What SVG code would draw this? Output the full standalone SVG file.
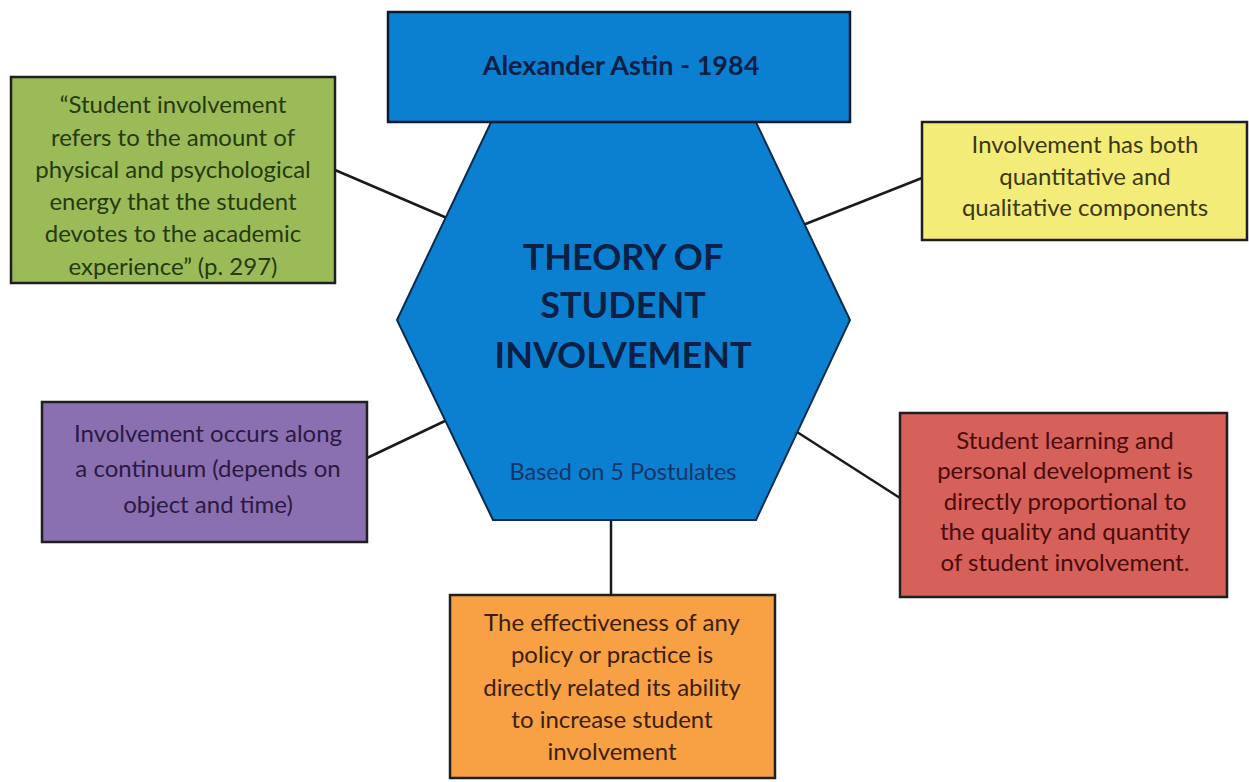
<svg xmlns="http://www.w3.org/2000/svg" width="1249" height="782" viewBox="0 0 1249 782">
  <style>
    .box { stroke: #1f1f1f; stroke-width: 2.5; }
    .conn { stroke: #1a1a1a; stroke-width: 2.5; fill: none; }
    .txt { font-family: Lato, "Liberation Sans", sans-serif; font-size: 24px; text-anchor: middle; }
    .title { font-family: Lato, "Liberation Sans", sans-serif; font-weight: bold; text-anchor: middle; fill: #0c1f45; }
  </style>
  <rect width="1249" height="782" fill="#ffffff"/>

  <!-- connectors -->
  <g id="connectors">
    <line class="conn" x1="335" y1="170" x2="447" y2="218"/>
    <line class="conn" x1="803" y1="225" x2="922" y2="178"/>
    <line class="conn" x1="367" y1="458" x2="447" y2="420"/>
    <line class="conn" x1="797" y1="432" x2="900" y2="498"/>
    <line class="conn" x1="611" y1="520" x2="611" y2="595"/>
  </g>

  <!-- central hexagon -->
  <g id="hexagon">
    <polygon points="493,118 754,118 850,320 756,520 493,520 397,320" fill="#0b80d0" stroke="#0d2a4a" stroke-width="2"/>
    <text class="title" x="623" y="270" font-size="36">THEORY OF</text>
    <text class="title" x="623" y="318" font-size="36">STUDENT</text>
    <text class="title" x="623" y="368" font-size="36">INVOLVEMENT</text>
    <text x="623" y="480" font-family="Lato, 'Liberation Sans', sans-serif" font-size="23.5" text-anchor="middle" fill="#143566">Based on 5 Postulates</text>
  </g>

  <!-- header -->
  <g id="header">
    <rect x="388" y="12" width="462" height="110" fill="#0b80d0" stroke="#0d1a2e" stroke-width="2.5"/>
    <text class="title" x="621" y="75" font-size="27">Alexander Astin - 1984</text>
  </g>

  <!-- definition -->
  <g id="definition">
    <rect class="box" x="11" y="77" width="324" height="206" fill="#9bbb59"/>
    <g class="txt" fill="#263a0e">
      <text x="173" y="113">“Student involvement</text>
      <text x="173" y="146">refers to the amount of</text>
      <text x="173" y="178">physical and psychological</text>
      <text x="173" y="210">energy that the student</text>
      <text x="173" y="242">devotes to the academic</text>
      <text x="173" y="275">experience” (p. 297)</text>
    </g>
  </g>

  <!-- postulate: quantitative and qualitative -->
  <g id="postulate-components">
    <rect class="box" x="922" y="122" width="325" height="118" fill="#f4ec78"/>
    <g class="txt" fill="#3a3812">
      <text x="1085" y="153">Involvement has both</text>
      <text x="1085" y="185">quantitative and</text>
      <text x="1085" y="216">qualitative components</text>
    </g>
  </g>

  <!-- postulate: continuum -->
  <g id="postulate-continuum">
    <rect class="box" x="42" y="402" width="325" height="140" fill="#8a70b0"/>
    <g class="txt" fill="#2a1a42">
      <text x="208" y="442">Involvement occurs along</text>
      <text x="208" y="477">a continuum (depends on</text>
      <text x="208" y="513">object and time)</text>
    </g>
  </g>

  <!-- postulate: learning and development -->
  <g id="postulate-learning">
    <rect class="box" x="900" y="413" width="327" height="184" fill="#d6605a"/>
    <g class="txt" fill="#4a0c0c">
      <text x="1065" y="449">Student learning and</text>
      <text x="1065" y="479">personal development is</text>
      <text x="1065" y="510">directly proportional to</text>
      <text x="1065" y="540">the quality and quantity</text>
      <text x="1065" y="571">of student involvement.</text>
    </g>
  </g>

  <!-- postulate: policy effectiveness -->
  <g id="postulate-policy">
    <rect class="box" x="450" y="595" width="325" height="183" fill="#f7a044"/>
    <g class="txt" fill="#3a200c">
      <text x="612" y="631">The effectiveness of any</text>
      <text x="612" y="663">policy or practice is</text>
      <text x="612" y="696">directly related its ability</text>
      <text x="612" y="728">to increase student</text>
      <text x="612" y="760">involvement</text>
    </g>
  </g>
</svg>
